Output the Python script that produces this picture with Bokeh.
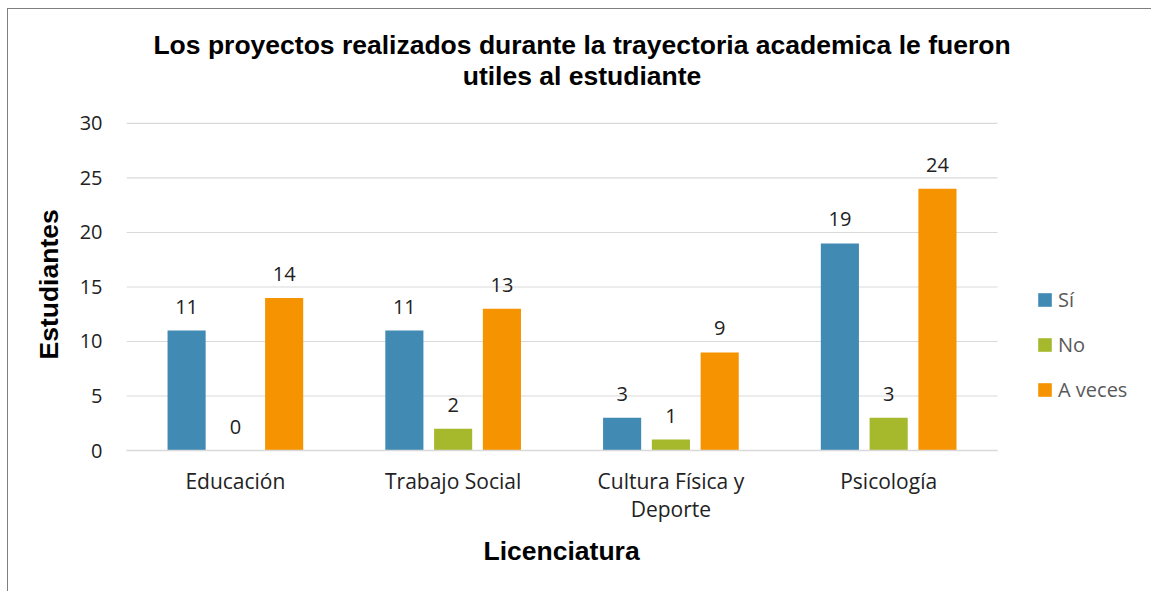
from bokeh.plotting import figure
from bokeh.models import (ColumnDataSource, Range1d, Legend, LegendItem, Label, Title,
                          FixedTicker, InlineStyleSheet)
from bokeh.core.properties import value
from bokeh.embed import file_html
from bokeh.resources import INLINE

# ---- data ----
categories = ["Educación", "Trabajo Social", "Cultura Física y\nDeporte", "Psicología"]
series = ["Sí", "No", "A veces"]
si = [11, 11, 3, 19]
no = [0, 2, 1, 3]
a_veces = [14, 13, 9, 24]
y_ticks = [0, 5, 10, 15, 20, 25, 30]
title_lines = ["Los proyectos realizados durante la trayectoria academica le fueron",
               "utiles al estudiante"]
x_label = "Licenciatura"
y_label = "Estudiantes"

colors = ["#418AB3", "#A6B92C", "#F59300"]
offsets = [-0.224, 0.0, 0.224]
n = len(categories)
centers = [i + 0.5 for i in range(n)]

# frame spans the whole right/top of the canvas so the legend and titles fit inside it
p = figure(x_range=Range1d(0, 4.707), y_range=Range1d(0, 41.28),
           width=1151, height=591,
           output_backend="svg", toolbar_location=None,
           min_border_left=126, min_border_right=0,
           min_border_top=0, min_border_bottom=141)
p.stylesheets = [InlineStyleSheet(css=(
    ":host{position:relative;}"
    ":host::after{content:'';position:absolute;left:7px;top:8px;right:0;bottom:0;"
    "border-left:1px solid #7f7f7f;border-top:1px solid #7f7f7f;"
    "pointer-events:none;z-index:100;}"))]
p.outline_line_color = None
p.background_fill_color = "white"
p.border_fill_color = "white"
p.xgrid.grid_line_color = None
p.ygrid.grid_line_color = None

# horizontal gridlines limited to the category area
p.segment(x0=[0] * len(y_ticks), x1=[n] * len(y_ticks), y0=y_ticks, y1=y_ticks,
          line_color="#D9D9D9", line_width=1.2)

items = []
for name, vals, col, off in zip(series, [si, no, a_veces], colors, offsets):
    src = ColumnDataSource(dict(x=[c + off for c in centers], val=vals,
                                lab=[str(v) for v in vals]))
    r = p.vbar(x="x", top="val", width=0.175, source=src,
               fill_color=col, line_color=None)
    p.text(x="x", y="val", text="lab", source=src,
           text_align="center", text_baseline="alphabetic", y_offset=-24,
           text_font=value("Open Sans"), text_font_size="20px", text_color="#222222")
    items.append(LegendItem(label=name, renderers=[r]))

legend = Legend(items=items, location=(910, 47), orientation="vertical",
                glyph_width=17, glyph_height=17, label_height=17, spacing=18,
                padding=0, margin=0, border_line_color=None, background_fill_alpha=0,
                label_text_font="Open Sans", label_text_font_size="20px",
                label_text_color="#595959", label_standoff=5)
p.add_layout(legend)

for line, yy in zip(title_lines, [405.5, 375]):
    p.add_layout(Label(x=455.5, y=yy, x_units="screen", y_units="screen", text=line,
                       text_align="center", text_baseline="alphabetic",
                       text_font="Liberation Sans", text_font_style="bold",
                       text_font_size="26.5px", text_color="black"))

# axes
p.yaxis.ticker = FixedTicker(ticks=y_ticks)
p.yaxis.bounds = (0, 30)
p.yaxis.axis_line_color = None
p.yaxis.major_tick_line_color = None
p.yaxis.minor_tick_line_color = None
p.yaxis.major_label_standoff = 18
p.yaxis.major_label_text_font = "Open Sans"
p.yaxis.major_label_text_font_size = "20px"
p.yaxis.major_label_text_color = "#222222"

p.xaxis.ticker = FixedTicker(ticks=centers)
p.xaxis.major_label_overrides = {c: lab for c, lab in zip(centers, categories)}
p.xaxis.bounds = (0, n)
p.xaxis.axis_line_color = "#D9D9D9"
p.xaxis.axis_line_width = 1.5
p.xaxis.major_tick_line_color = None
p.xaxis.minor_tick_line_color = None
p.xaxis.major_label_standoff = 10
p.xaxis.major_label_text_font = "Open Sans"
p.xaxis.major_label_text_font_size = "21px"
p.xaxis.major_label_text_line_height = 1.0
p.xaxis.major_label_text_color = "#222222"

# axis titles as side-panel titles, positioned over the category/value area
ytitle = Title(text=y_label, align="left", offset=91, vertical_align="middle",
               standoff=24, text_font="Liberation Sans", text_font_style="bold",
               text_font_size="26.5px", text_color="black")
p.add_layout(ytitle, "left")
xtitle = Title(text=x_label, align="left", offset=357, vertical_align="middle",
               standoff=18, text_font="Liberation Sans", text_font_style="bold",
               text_font_size="26.5px", text_color="black")
p.add_layout(xtitle, "below")

open("out.html", "w").write(file_html(p, INLINE))
